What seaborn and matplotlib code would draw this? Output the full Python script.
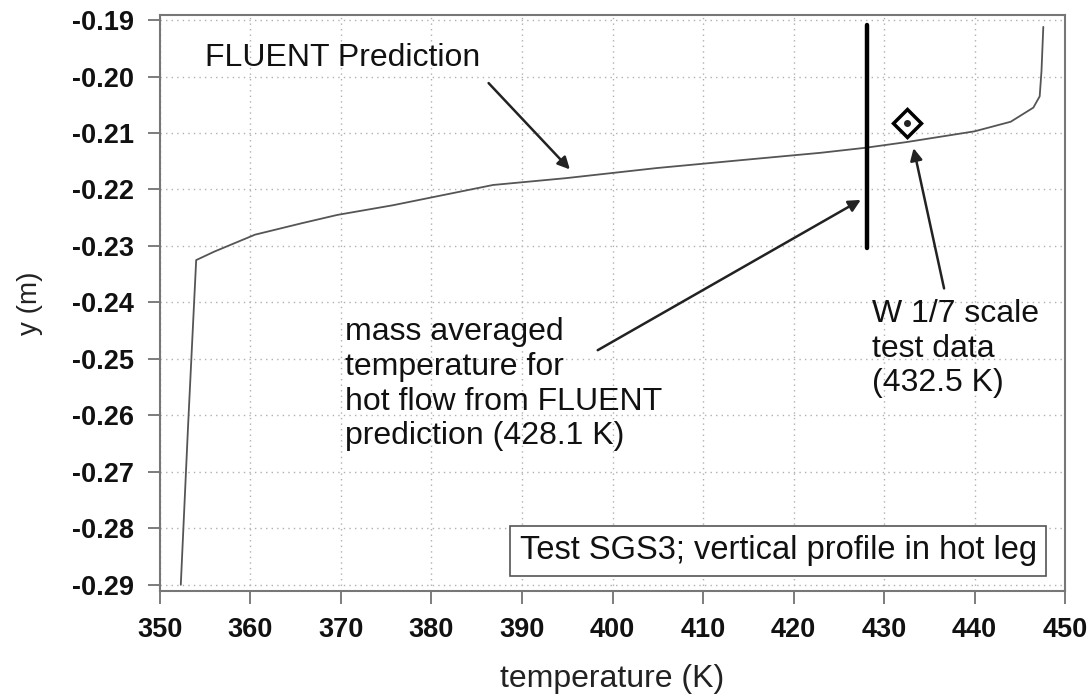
import matplotlib
matplotlib.use("Agg")
import matplotlib.pyplot as plt
import seaborn as sns
import pandas as pd

# FLUENT prediction profile
temp_fluent = [352.3, 353.1, 354.0, 356.0, 360.5, 365.6, 369.6, 375.7, 386.8, 394.8,
               404.9, 414.9, 423.0, 428.0, 432.5, 440.0, 444.0, 446.5, 447.2, 447.4, 447.6]
y_fluent = [-0.290, -0.262, -0.2325, -0.2310, -0.2280, -0.2260, -0.2245, -0.2228, -0.2192, -0.2180,
            -0.2162, -0.2147, -0.2135, -0.2126, -0.2116, -0.2097, -0.2080, -0.2055, -0.2035, -0.1990, -0.1912]

# mass averaged temperature line
mass_avg_temp = [428.1, 428.1]
mass_avg_y = [-0.2304, -0.1909]

# test data
test_temp = [432.5]
test_y = [-0.2083]

x_ticks = [350, 360, 370, 380, 390, 400, 410, 420, 430, 440, 450]
y_ticks = [-0.29, -0.28, -0.27, -0.26, -0.25, -0.24, -0.23, -0.22, -0.21, -0.20, -0.19]
y_ticklabels = ["-0.29", "-0.28", "-0.27", "-0.26", "-0.25", "-0.24", "-0.23", "-0.22", "-0.21", "-0.20", "-0.19"]

sns.set_theme(style="white")
plt.rcParams['font.family'] = ['Liberation Sans', 'DejaVu Sans']

fig = plt.figure(figsize=(10.92, 6.98), dpi=100)
ax = fig.add_axes([0.1465, 0.1533, 0.8288, 0.8252])

df = pd.DataFrame({"T": temp_fluent, "y": y_fluent})
sns.lineplot(data=df, x="T", y="y", sort=False, estimator=None, ax=ax,
             color="#555555", linewidth=1.3)
sns.lineplot(x=mass_avg_temp, y=mass_avg_y, sort=False, estimator=None, ax=ax,
             color="black", linewidth=3.2)
ax.plot(test_temp, test_y, marker="D", markersize=14, markerfacecolor="white",
        markeredgecolor="black", markeredgewidth=2.5, linestyle="none", zorder=5)
ax.plot(test_temp, test_y, marker="o", markersize=4, color="#222222", linestyle="none", zorder=6)

ax.set_xlim(350, 450)
ax.set_ylim(-0.2911, -0.1891)
ax.set_xticks(x_ticks)
ax.set_yticks(y_ticks)
ax.set_yticklabels(y_ticklabels)
ax.grid(True, linestyle=(0, (1, 3)), color="#b0b0b0", linewidth=1.0)

for lab in ax.get_xticklabels() + ax.get_yticklabels():
    lab.set_fontweight("bold")
    lab.set_fontsize(19.5)
ax.tick_params(axis="both", direction="out", length=9, width=1.2, color="#666666",
               labelcolor="#111111", bottom=True, left=True)
ax.tick_params(axis="x", pad=10)
ax.tick_params(axis="y", pad=10)
for s in ax.spines.values():
    s.set_color("#777777")
    s.set_linewidth(1.5)

ax.set_xlabel("temperature (K)", fontsize=23, color="#222222")
ax.set_ylabel("y (m)", fontsize=20, color="#222222")
ax.xaxis.set_label_coords(0.5, -0.152)
ax.xaxis.label.set_va("center")
ax.yaxis.set_label_coords(-0.1436, 0.5)
ax.yaxis.label.set_va("center")

arrow = dict(arrowstyle="-|>", color="#222222", lw=1.8, mutation_scale=18)
ax.text(355.0, -0.1967, "FLUENT Prediction", fontsize=23, va="center", ha="left", color="#111111")
ax.annotate("", xy=(395.5, -0.2168), xytext=(386.1, -0.2008), arrowprops=arrow)

ax.text(370.4, -0.2545,
        "mass averaged\ntemperature for\nhot flow from FLUENT\nprediction (428.1 K)",
        fontsize=23, va="center", ha="left", color="#111111", linespacing=1.2)
ax.annotate("", xy=(427.7, -0.2216), xytext=(398.1, -0.2487), arrowprops=arrow)

ax.text(428.7, -0.2482, "W 1/7 scale\ntest data\n(432.5 K)",
        fontsize=23, va="center", ha="left", color="#111111", linespacing=1.2)
ax.annotate("", xy=(433.2, -0.2122), xytext=(436.7, -0.2380), arrowprops=arrow)

ax.text(418.3, -0.2840, "Test SGS3; vertical profile in hot leg", fontsize=23.5,
        ha="center", va="center", color="#111111",
        bbox=dict(boxstyle="square,pad=0.28", facecolor="white", edgecolor="#555555", linewidth=1.2))

fig.savefig("out.png", dpi=100)
